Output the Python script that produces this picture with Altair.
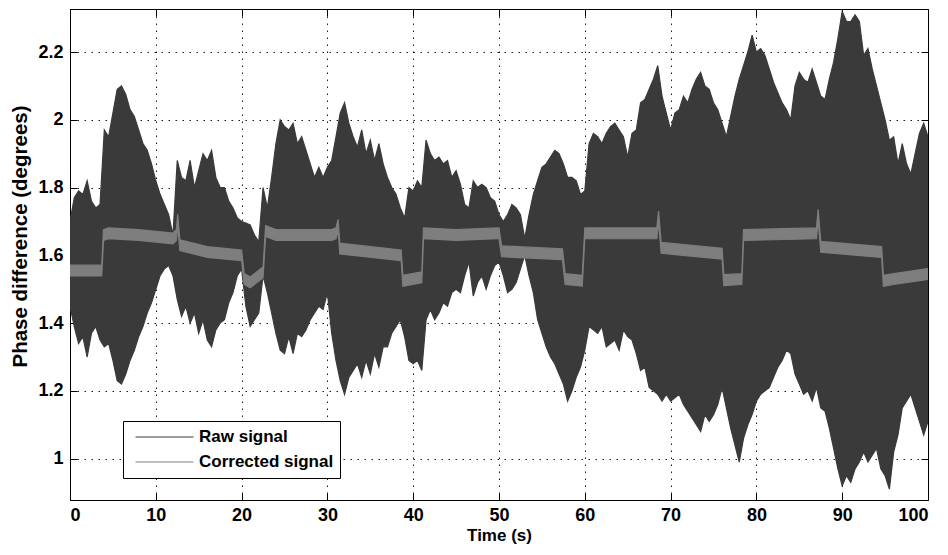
import altair as alt
import pandas as pd

# ---------------- data ----------------
time = [k / 2 for k in range(201)]  # 0 .. 100 s, 0.5 s sampling of the envelope

raw_upper = [
    1.70, 1.77, 1.79, 1.78, 1.82, 1.76, 1.74, 1.75, 1.97, 1.95,
    2.02, 2.09, 2.10, 2.075, 2.03, 2.01, 1.97, 1.93, 1.91, 1.87,
    1.82, 1.78, 1.75, 1.72, 1.66, 1.88, 1.83, 1.82, 1.88, 1.80,
    1.85, 1.90, 1.88, 1.91, 1.83, 1.80, 1.80, 1.76, 1.74, 1.71,
    1.70, 1.695, 1.69, 1.66, 1.64, 1.80, 1.74, 1.83, 1.93, 2.00,
    1.98, 1.97, 1.99, 1.93, 1.95, 1.91, 1.87, 1.83, 1.86, 1.83,
    1.86, 1.88, 1.95, 2.02, 2.05, 1.99, 1.95, 1.92, 1.97, 1.90,
    1.94, 1.88, 1.93, 1.87, 1.83, 1.80, 1.78, 1.74, 1.71, 1.80,
    1.79, 1.82, 1.80, 1.94, 1.90, 1.88, 1.89, 1.87, 1.88, 1.83,
    1.85, 1.81, 1.75, 1.74, 1.82, 1.80, 1.81, 1.80, 1.77, 1.76,
    1.72, 1.70, 1.72, 1.75, 1.74, 1.72, 1.65, 1.72, 1.78, 1.82,
    1.86, 1.87, 1.89, 1.91, 1.90, 1.87, 1.83, 1.83, 1.82, 1.78,
    1.79, 1.93, 1.96, 1.95, 1.93, 1.96, 1.98, 1.99, 1.97, 1.95,
    1.89, 1.96, 1.97, 2.05, 2.06, 2.09, 2.12, 2.16, 2.07, 2.02,
    1.97, 2.02, 2.03, 2.07, 2.05, 2.09, 2.12, 2.14, 2.10, 2.09,
    2.05, 2.03, 1.99, 1.95, 2.01, 2.07, 2.12, 2.16, 2.20, 2.25,
    2.20, 2.21, 2.19, 2.15, 2.11, 2.08, 2.05, 2.03, 2.00, 2.10,
    2.14, 2.12, 2.11, 2.15, 2.11, 2.07, 2.06, 2.12, 2.17, 2.24,
    2.32, 2.29, 2.29, 2.31, 2.29, 2.19, 2.21, 2.15, 2.10, 2.05,
    2.00, 1.94, 1.95, 1.87, 1.93, 1.87, 1.84, 1.90, 1.96, 1.99,
    1.95,
]

raw_lower = [
    1.45, 1.39, 1.34, 1.36, 1.30, 1.37, 1.39, 1.35, 1.33, 1.34,
    1.29, 1.23, 1.22, 1.25, 1.29, 1.32, 1.36, 1.39, 1.43, 1.46,
    1.50, 1.54, 1.56, 1.57, 1.54, 1.47, 1.42, 1.45, 1.40, 1.43,
    1.37, 1.41, 1.35, 1.33, 1.38, 1.40, 1.41, 1.46, 1.49, 1.54,
    1.56, 1.45, 1.39, 1.41, 1.43, 1.54, 1.49, 1.43, 1.37, 1.32,
    1.31, 1.36, 1.31, 1.37, 1.36, 1.38, 1.41, 1.43, 1.45, 1.44,
    1.49, 1.37, 1.29, 1.23, 1.19, 1.24, 1.26, 1.28, 1.24, 1.29,
    1.25, 1.31, 1.27, 1.33, 1.33, 1.37, 1.39, 1.41, 1.36, 1.29,
    1.28, 1.29, 1.26, 1.41, 1.44, 1.41, 1.43, 1.46, 1.45, 1.49,
    1.50, 1.49, 1.54, 1.58, 1.48, 1.52, 1.54, 1.50, 1.54, 1.57,
    1.58, 1.54, 1.49, 1.50, 1.52, 1.56, 1.60, 1.54, 1.49, 1.41,
    1.37, 1.33, 1.30, 1.28, 1.25, 1.22, 1.17, 1.20, 1.24, 1.27,
    1.32, 1.39, 1.38, 1.37, 1.39, 1.33, 1.34, 1.35, 1.32, 1.38,
    1.36, 1.35, 1.31, 1.26, 1.27, 1.21, 1.20, 1.19, 1.17, 1.19,
    1.17, 1.18, 1.19, 1.16, 1.14, 1.12, 1.10, 1.08, 1.13, 1.11,
    1.13, 1.16, 1.21, 1.15, 1.09, 1.04, 0.99, 1.06, 1.10, 1.13,
    1.17, 1.19, 1.20, 1.21, 1.24, 1.27, 1.29, 1.32, 1.31, 1.25,
    1.22, 1.19, 1.20, 1.17, 1.21, 1.15, 1.14, 1.09, 1.03, 0.97,
    0.92, 0.95, 0.93, 0.97, 0.99, 1.02, 0.99, 1.01, 1.03, 0.97,
    0.95, 0.91, 1.02, 1.07, 1.15, 1.17, 1.19, 1.15, 1.11, 1.07,
    1.11,
]

corr_time = [
    0.0, 3.7, 3.9, 4.5, 8.0, 12.0, 12.4, 12.55, 12.8, 16.0,
    20.0, 20.3, 21.0, 22.5, 22.8, 24.0, 30.5, 31.0, 31.25, 31.45,
    38.6, 38.8, 41.0, 41.2, 45.0, 49.8, 50.0, 50.3, 57.4, 57.7,
    59.7, 60.0, 68.4, 68.6, 68.9, 76.0, 76.2, 78.3, 78.5, 87.0,
    87.2, 87.5, 94.6, 94.8, 96.0, 100.0,
]
corr_value = [
    1.555, 1.555, 1.66, 1.665, 1.66, 1.65, 1.66, 1.705, 1.63, 1.61,
    1.60, 1.53, 1.52, 1.55, 1.672, 1.66, 1.66, 1.665, 1.69, 1.62,
    1.60, 1.525, 1.535, 1.665, 1.66, 1.665, 1.665, 1.612, 1.603, 1.53,
    1.525, 1.665, 1.665, 1.715, 1.622, 1.605, 1.527, 1.53, 1.66, 1.665,
    1.72, 1.625, 1.61, 1.525, 1.53, 1.545,
]

series_names = ["Raw signal", "Corrected signal"]
series_colors = ["#3a3a3a", "#7e7e7e"]

x_ticks = [0, 10, 20, 30, 40, 50, 60, 70, 80, 90, 100]
y_ticks = [1.0, 1.2, 1.4, 1.6, 1.8, 2.0, 2.2]
x_domain = [0, 100]
y_domain = [0.878, 2.327]

# ---------------- tables ----------------
raw_df = pd.DataFrame({"t": time, "upper": raw_upper, "lower": raw_lower})
corr_df = pd.DataFrame({"t": corr_time, "v": corr_value, "series": series_names[1]})

FONT = "Liberation Sans"
BAND_HALF = 0.016  # drawn thickness of the corrected trace

xs = alt.Scale(domain=x_domain, nice=False, zero=False)
ys = alt.Scale(domain=y_domain, nice=False, zero=False)

stroke_scale = alt.Scale(domain=series_names, range=series_colors)

legend = alt.Legend(
    title=None, orient="none", legendX=53, legendY=412,
    fillColor="white", strokeColor="black", padding=6, cornerRadius=0,
    symbolType="stroke", symbolSize=3364, symbolStrokeWidth=1,
    symbolOffset=6, clipHeight=20,
    symbolOpacity=1, labelOffset=5, rowPadding=5,
    labelFont=FONT, labelFontSize=17, labelFontWeight="bold",
    labelColor="black",
)

main_x_axis = alt.Axis(values=x_ticks, title="Time (s)", grid=True, ticks=False,
                       tickSize=0, domain=False, labelPadding=6, titlePadding=3,
                       format="d", titleFontSize=17)
main_y_axis = alt.Axis(values=y_ticks, title="Phase difference (degrees)", grid=True,
                       ticks=False, tickSize=0, domain=False, labelPadding=7,
                       format="~g", titleY=227, titleX=-40, titleFontSize=20.5)

in_x_bottom = alt.Axis(values=x_ticks, orient="bottom", offset=-7, tickSize=7,
                       labels=False, grid=False, domain=False, title=None)
in_y_left = alt.Axis(values=y_ticks, orient="left", offset=-7, tickSize=7,
                     labels=False, grid=False, domain=False, title=None)
in_x_top = alt.Axis(values=x_ticks, orient="top", offset=-7, tickSize=7,
                    labels=False, grid=False, domain=False, title=None)
in_y_right = alt.Axis(values=y_ticks, orient="right", offset=-7, tickSize=7,
                      labels=False, grid=False, domain=False, title=None)

raw_layer = alt.Chart(raw_df).mark_area(
    fill=series_colors[0], stroke=series_colors[0], strokeWidth=1.2,
    clip=True, interpolate="linear"
).encode(
    x=alt.X("t:Q", scale=xs, axis=main_x_axis),
    y=alt.Y("upper:Q", scale=ys, axis=main_y_axis),
    y2="lower:Q",
)

corr_layer = alt.Chart(corr_df).transform_calculate(
    hi=f"datum.v + {BAND_HALF}", lo=f"datum.v - {BAND_HALF}"
).mark_area(
    fill=series_colors[1], stroke=series_colors[1], strokeWidth=1.2,
    clip=True, interpolate="linear"
).encode(
    x=alt.X("t:Q", scale=xs, axis=in_x_bottom),
    y=alt.Y("hi:Q", scale=ys, axis=in_y_left),
    y2="lo:Q",
)

# invisible helper layer: carries the top/right inward ticks and the legend
frame_layer = alt.Chart(corr_df).mark_line(
    clip=True, opacity=0, strokeWidth=1
).encode(
    x=alt.X("t:Q", scale=xs, axis=in_x_top),
    y=alt.Y("v:Q", scale=ys, axis=in_y_right),
    stroke=alt.Stroke("series:N", scale=stroke_scale, legend=legend),
)

chart = alt.layer(raw_layer, corr_layer, frame_layer).resolve_axis(
    x="independent", y="independent"
).properties(
    width=858, height=491,
    padding={"left": 62, "top": 1, "right": 10, "bottom": 46},
    autosize=alt.AutoSizeParams(type="none"),
    background="white",
).configure_view(
    stroke="black", strokeWidth=1
).configure_axis(
    labelFont=FONT, labelFontSize=18, labelFontWeight="bold", labelColor="black",
    titleFont=FONT, titleFontSize=18, titleFontWeight="bold", titleColor="black",
    gridColor="black", gridDash=[1.5, 5.5], gridWidth=1, gridOpacity=0.9,
    tickColor="black", tickWidth=1,
)

chart.save("out.html", embed_options={"renderer": "svg", "actions": False})
